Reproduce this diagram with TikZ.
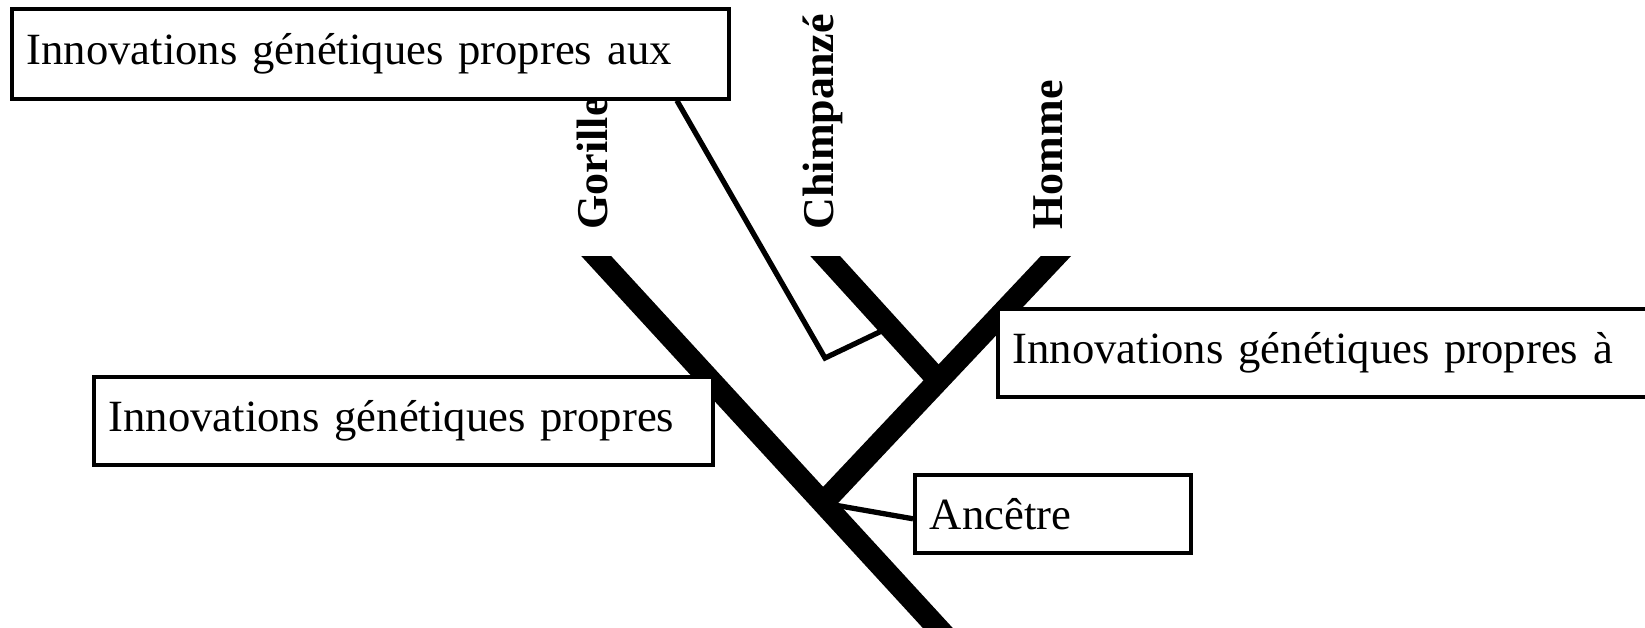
\documentclass[tikz,border=0pt]{standalone}
\usepackage{fontspec}
\setmainfont{Liberation Serif}
\usetikzlibrary{calc}
\tikzstyle{box} = [rectangle, draw=black, line width=1pt, fill=white, anchor=north west, align=left, inner xsep=0.15cm, inner ysep=0pt, font=\fontsize{12.7}{15}\selectfont]
\tikzstyle{species} = [rotate=90, anchor=base west, inner sep=0pt, font=\bfseries\fontsize{12.5}{15}\selectfont]
\tikzstyle{branch} = [line width=0.22cm, line cap=butt]
\tikzstyle{line} = [line width=1.5pt]

\begin{document}
\begin{tikzpicture}[x=0.01cm, y=-0.01cm]
\useasboundingbox (0,0) rectangle (1645,627);

% Tree
\coordinate (gorTop) at (581.5,240);
\coordinate (chimpTop) at (810.6,240);
\coordinate (hommeTop) at (1071,240);
\coordinate (root) at (823,503);
\coordinate (hc) at (938,380);
\coordinate (trunkEnd) at (958,650);
\begin{scope}
\clip (0,256) rectangle (1645,627);
\draw[branch] (gorTop) -- (trunkEnd);
\draw[branch] (hommeTop) -- (root);
\draw[branch] (chimpTop) -- (hc);
\end{scope}

% Nodes
\node (aux) [box, text width=6.87cm, minimum height=0.9cm] at (10,7) {Innovations génétiques propres aux};
\node (propres) [box, text width=5.89cm, minimum height=0.88cm] at (92,375) {Innovations génétiques propres};
\node (propresA) [box, text width=6.4cm, minimum height=0.88cm] at (996,307) {Innovations génétiques propres à};
\node (ancetre) [box, text width=2.46cm, minimum height=0.78cm] at (913,473) {Ancêtre};

% Species
\node (gorille) [species] at (607,230) {Gorille};
\node (chimp) [species] at (833,230) {Chimpanzé};
\node (homme) [species] at (1062,230) {Homme};

% Lines
\coordinate (bend) at (825,358);
\coordinate (onChimp) at (890,327);
\draw [line] ([xshift=-0.54cm]aux.south east) -- (bend) -- (onChimp);
\draw [line] (root) -- ([yshift=-0.05cm]ancetre.west);

\end{tikzpicture}
\end{document}
